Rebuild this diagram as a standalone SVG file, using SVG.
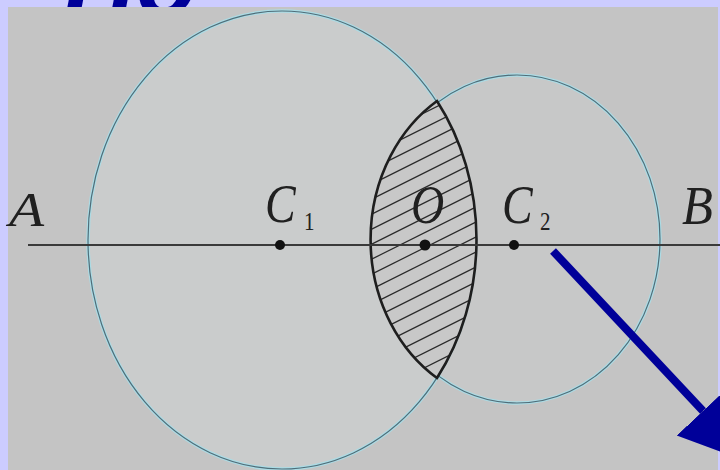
<svg xmlns="http://www.w3.org/2000/svg" width="720" height="470" viewBox="0 0 720 470">
  <defs>
    <style>
      .circ-halo { fill: none; stroke: #acdbe4; stroke-width: 3.5; }
      .circ-line { fill: none; stroke: #4f6e7a; stroke-width: 1.2; }
      .lbl { font-family: "Liberation Serif", "DejaVu Serif", serif; font-style: italic; font-size: 46px; fill: #202020; }
      .sub { font-family: "Liberation Serif", "DejaVu Serif", serif; font-size: 21px; fill: #202020; }
      .dot { fill: #111; }
      .hatch { stroke: #2a2a2a; stroke-width: 1.2; }
    </style>
    <clipPath id="lensClip">
      <path d="M437,101 A194,229 0 0,1 437,378 A143,164 0 0,1 437,101 Z"/>
    </clipPath>
    <marker id="arrowHead" viewBox="0 0 10 10" refX="0" refY="5" markerWidth="9" markerHeight="9.5" markerUnits="strokeWidth" orient="auto">
      <path d="M0,0 L10,5 L0,10 Z" fill="#000099"/>
    </marker>
  </defs>

  <!-- slide background -->
  <rect x="0" y="0" width="720" height="470" fill="#ccccff"/>
  <g id="title">
    <text x="64" y="16" font-family="'Liberation Sans', Arial, sans-serif" font-weight="bold" font-style="italic" font-size="100" fill="#000099">Но</text>
  </g>

  <!-- photo -->
  <rect x="8" y="7" width="710" height="463" fill="#c4c4c4"/>

  <g id="circle-c1">
    <ellipse cx="282" cy="240" rx="194" ry="229" fill="#cacccc"/>
    <ellipse class="circ-halo" cx="282" cy="240" rx="194" ry="229"/>
    <ellipse class="circ-line" cx="282" cy="240" rx="194" ry="229"/>
  </g>
  <g id="circle-c2">
    <ellipse cx="517" cy="239" rx="143" ry="164" fill="#c9cbcc" fill-opacity="0.6"/>
    <ellipse class="circ-halo" cx="517" cy="239" rx="143" ry="164"/>
    <ellipse class="circ-line" cx="517" cy="239" rx="143" ry="164"/>
  </g>

  <g id="lens">
    <path d="M437,101 A194,229 0 0,1 437,378 A143,164 0 0,1 437,101 Z" fill="#c8c8c8"/>
    <g clip-path="url(#lensClip)">
      <line class="hatch" x1="360" y1="100" x2="500" y2="30"/>
      <line class="hatch" x1="360" y1="115" x2="500" y2="45"/>
      <line class="hatch" x1="360" y1="130" x2="500" y2="60"/>
      <line class="hatch" x1="360" y1="145" x2="500" y2="75"/>
      <line class="hatch" x1="360" y1="160" x2="500" y2="90"/>
      <line class="hatch" x1="360" y1="175" x2="500" y2="105"/>
      <line class="hatch" x1="360" y1="190" x2="500" y2="120"/>
      <line class="hatch" x1="360" y1="205" x2="500" y2="135"/>
      <line class="hatch" x1="360" y1="220" x2="500" y2="150"/>
      <line class="hatch" x1="360" y1="235" x2="500" y2="165"/>
      <line class="hatch" x1="360" y1="250" x2="500" y2="180"/>
      <line class="hatch" x1="360" y1="265" x2="500" y2="195"/>
      <line class="hatch" x1="360" y1="280" x2="500" y2="210"/>
      <line class="hatch" x1="360" y1="295" x2="500" y2="225"/>
      <line class="hatch" x1="360" y1="310" x2="500" y2="240"/>
      <line class="hatch" x1="360" y1="325" x2="500" y2="255"/>
      <line class="hatch" x1="360" y1="340" x2="500" y2="270"/>
      <line class="hatch" x1="360" y1="355" x2="500" y2="285"/>
      <line class="hatch" x1="360" y1="370" x2="500" y2="300"/>
      <line class="hatch" x1="360" y1="385" x2="500" y2="315"/>
      <line class="hatch" x1="360" y1="400" x2="500" y2="330"/>
      <line class="hatch" x1="360" y1="415" x2="500" y2="345"/>
      <line class="hatch" x1="360" y1="430" x2="500" y2="360"/>
      <line class="hatch" x1="360" y1="445" x2="500" y2="375"/>
    </g>
    <path d="M437,101 A194,229 0 0,1 437,378 A143,164 0 0,1 437,101 Z" fill="none" stroke="#1e1e1e" stroke-width="2.6" stroke-linejoin="miter"/>
  </g>

  <g id="connectors">
    <line id="line-ab" x1="28" y1="245" x2="720" y2="245" stroke="#3a3a3a" stroke-width="1.8"/>
    <line id="blue-arrow" x1="553" y1="251" x2="703" y2="411" stroke="#000099" stroke-width="8" marker-end="url(#arrowHead)"/>
  </g>

  <g id="point-a">
    <text class="lbl" transform="translate(9,226) scale(1.25,1.05)">A</text>
  </g>
  <g id="point-c1">
    <circle class="dot" cx="280" cy="245" r="5"/>
    <text class="lbl" transform="translate(265,222) scale(1,1.2)">C</text>
    <text class="sub" transform="translate(304,230) scale(1,1.2)">1</text>
  </g>
  <g id="point-o">
    <circle class="dot" cx="425" cy="245" r="5.5"/>
    <text class="lbl" transform="translate(411,223) scale(1,1.2)">O</text>
  </g>
  <g id="point-c2">
    <circle class="dot" cx="514" cy="245" r="5"/>
    <text class="lbl" transform="translate(502,223) scale(1,1.2)">C</text>
    <text class="sub" transform="translate(540,230) scale(1,1.2)">2</text>
  </g>
  <g id="point-b">
    <text class="lbl" transform="translate(682,224) scale(1.1,1.2)">B</text>
  </g>
</svg>
